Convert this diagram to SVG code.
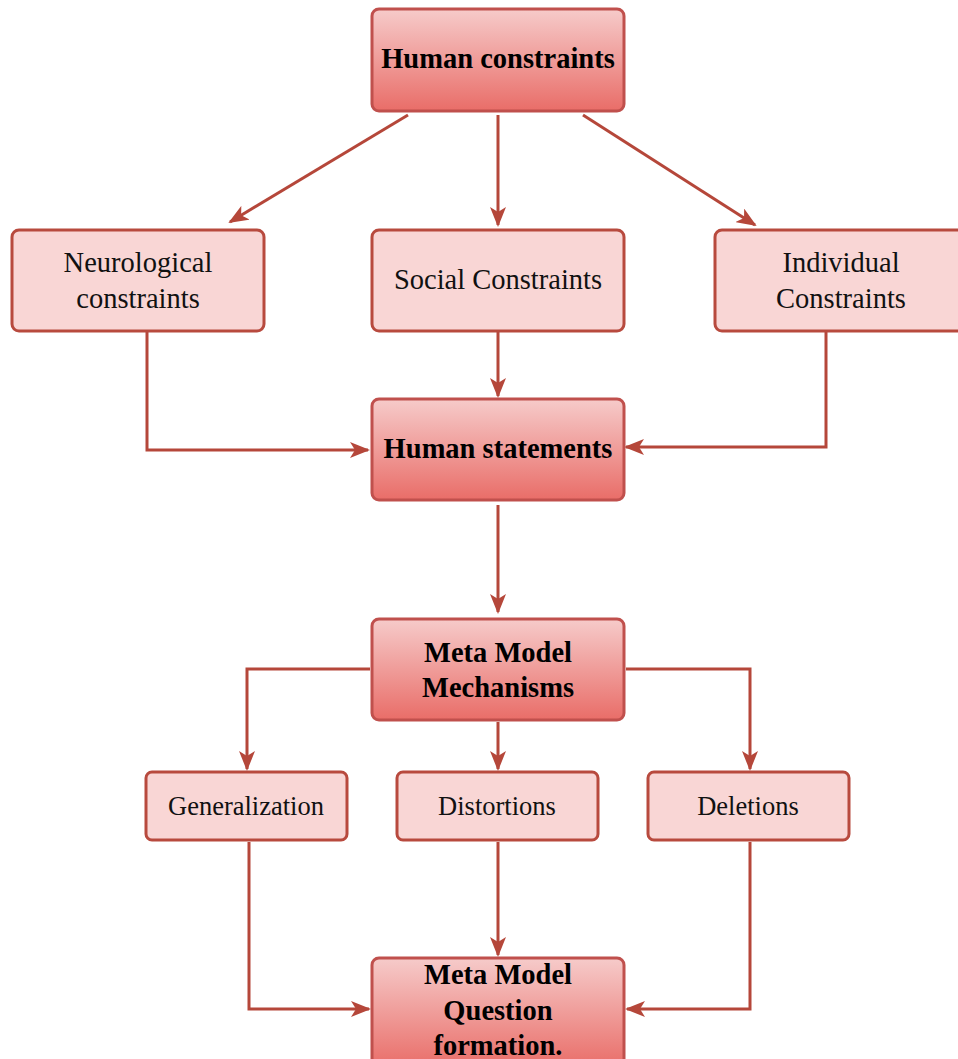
<svg xmlns="http://www.w3.org/2000/svg" width="958" height="1059" viewBox="0 0 958 1059">
<defs>
<linearGradient id="g" x1="0" y1="0" x2="0" y2="1">
<stop offset="0" stop-color="#f6cbca"/>
<stop offset="1" stop-color="#e96d68"/>
</linearGradient>
<marker id="ah" viewBox="0 0 20 16" refX="18" refY="8" markerWidth="20" markerHeight="16" markerUnits="userSpaceOnUse" orient="auto">
<path d="M0,0 L20,8 L0,16 L5,8 Z" fill="#b5473a"/>
</marker>
<style>
.b{fill:url(#g);stroke:#c0504d;stroke-width:3}
.l{fill:#f9d6d5;stroke:#b84a3e;stroke-width:3}
.tb{font-family:"Liberation Serif",serif;font-weight:bold;font-size:28.5px;fill:#000;text-anchor:middle}
.t{font-family:"Liberation Serif",serif;font-size:28.5px;fill:#111;text-anchor:middle}
.ts{font-family:"Liberation Serif",serif;font-size:26.5px;fill:#111;text-anchor:middle}
.c{fill:none;stroke:#b5473a;stroke-width:3;marker-end:url(#ah)}
</style>
</defs>
<g id="connectors">
<path class="c" d="M408,115 L230,222"/>
<path class="c" d="M498,115 L498,225"/>
<path class="c" d="M583,115 L755,225"/>
<path class="c" d="M147,332 L147,450 L368,450"/>
<path class="c" d="M498,332 L498,396"/>
<path class="c" d="M826,332 L826,447 L626,447"/>
<path class="c" d="M498,505 L498,612"/>
<path class="c" d="M370,669 L247,669 L247,769"/>
<path class="c" d="M498,722 L498,769"/>
<path class="c" d="M626,669 L750,669 L750,769"/>
<path class="c" d="M249,842 L249,1009 L369,1009"/>
<path class="c" d="M498,842 L498,955"/>
<path class="c" d="M750,842 L750,1009 L627,1009"/>
</g>
<g id="human-constraints">
<rect class="b" x="372" y="9" width="252" height="102" rx="7"/>
<text class="tb" x="498" y="68">Human constraints</text>
</g>
<g id="neurological">
<rect class="l" x="12" y="230" width="252" height="101" rx="7"/>
<text class="t" x="138" y="272">Neurological</text>
<text class="t" x="138" y="308">constraints</text>
</g>
<g id="social">
<rect class="l" x="372" y="230" width="252" height="101" rx="7"/>
<text class="t" x="498" y="289">Social Constraints</text>
</g>
<g id="individual">
<rect class="l" x="715" y="230" width="252" height="101" rx="7"/>
<text class="t" x="841" y="272">Individual</text>
<text class="t" x="841" y="308">Constraints</text>
</g>
<g id="human-statements">
<rect class="b" x="372" y="399" width="252" height="101" rx="7"/>
<text class="tb" x="498" y="458">Human statements</text>
</g>
<g id="meta-mechanisms">
<rect class="b" x="372" y="619" width="252" height="101" rx="7"/>
<text class="tb" x="498" y="662">Meta Model</text>
<text class="tb" x="498" y="697">Mechanisms</text>
</g>
<g id="generalization">
<rect class="l" x="146" y="772" width="201" height="68" rx="6"/>
<text class="ts" x="246" y="815">Generalization</text>
</g>
<g id="distortions">
<rect class="l" x="397" y="772" width="201" height="68" rx="6"/>
<text class="ts" x="497" y="815">Distortions</text>
</g>
<g id="deletions">
<rect class="l" x="648" y="772" width="201" height="68" rx="6"/>
<text class="ts" x="748" y="815">Deletions</text>
</g>
<g id="meta-question">
<rect class="b" x="372" y="958" width="252" height="110" rx="7"/>
<text class="tb" x="498" y="984">Meta Model</text>
<text class="tb" x="498" y="1020">Question</text>
<text class="tb" x="498" y="1055">formation.</text>
</g>
</svg>
